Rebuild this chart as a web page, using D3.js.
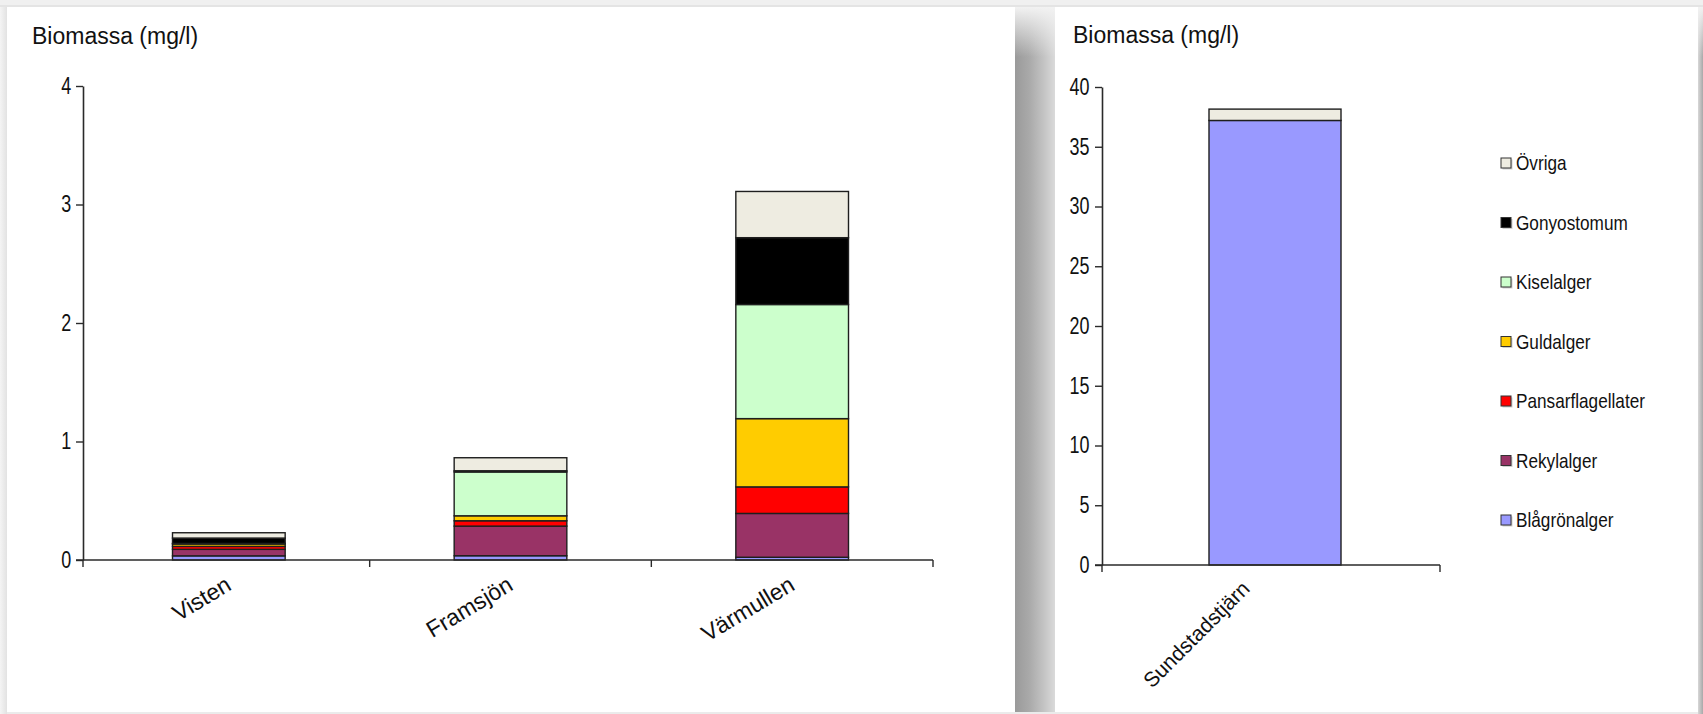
<!DOCTYPE html>
<html>
<head>
<meta charset="utf-8">
<script src="https://cdn.jsdelivr.net/npm/d3@7"></script>
<style>
  html, body { margin: 0; padding: 0; background: #efefef; }
  svg { display: block; }
  text { font-family: "Liberation Sans", Arial, sans-serif; fill: #111; }
</style>
</head>
<body>
<svg id="chart" width="1703" height="714"></svg>
<script>
// ---------- DATA ----------
const lakesLeft = ["Visten", "Framsjön", "Värmullen"];
const lakesRight = ["Sundstadstjärn"];
const lakes = ["Visten", "Framsjön", "Värmullen", "Sundstadstjärn"];

const seriesNames = ["Blågrönalger", "Rekylalger", "Pansarflagellater", "Guldalger", "Kiselalger", "Gonyostomum", "Övriga"];
const seriesColors = ["#9999FF", "#993366", "#FF0000", "#FFCC00", "#CCFFCC", "#000000", "#EEECE1"];

// values per lake: Visten, Framsjön, Värmullen, Sundstadstjärn (mg/l)
const blagronalger      = [0.035, 0.036, 0.023, 37.2];
const rekylalger        = [0.055, 0.250, 0.370, 0];
const pansarflagellater = [0.025, 0.045, 0.224, 0];
const guldalger         = [0.020, 0.042, 0.576, 0];
const kiselalger        = [0.005, 0.370, 0.963, 0];
const gonyostomum       = [0.045, 0.010, 0.564, 0];
const ovriga            = [0.045, 0.110, 0.390, 0.95];

const leftTicks = [0, 1, 2, 3, 4];
const rightTicks = [0, 5, 10, 15, 20, 25, 30, 35, 40];
const yTitle = "Biomassa (mg/l)";

// ---------- BUILD TABLE ----------
const seriesValues = [blagronalger, rekylalger, pansarflagellater, guldalger, kiselalger, gonyostomum, ovriga];
const rows = lakes.map((lake, i) => {
  const r = { lake };
  seriesNames.forEach((s, j) => { r[s] = seriesValues[j][i]; });
  return r;
});
const color = d3.scaleOrdinal().domain(seriesNames).range(seriesColors);
const stack = d3.stack().keys(seriesNames);

const svg = d3.select("#chart");
const FONT = '"Liberation Sans", Arial, sans-serif';

// ---------- BACKGROUND / FRAMES ----------
const defs = svg.append("defs");
const sepGrad = defs.append("linearGradient").attr("id", "sepGrad").attr("x1", "0").attr("x2", "1").attr("y1", "0").attr("y2", "0");
sepGrad.append("stop").attr("offset", "0").attr("stop-color", "#9a9a9a");
sepGrad.append("stop").attr("offset", "0.35").attr("stop-color", "#a9a9a9");
sepGrad.append("stop").attr("offset", "0.7").attr("stop-color", "#c2c2c2");
sepGrad.append("stop").attr("offset", "1").attr("stop-color", "#dadada");
const fadeGrad = defs.append("linearGradient").attr("id", "fadeGrad").attr("x1", "0").attr("x2", "0").attr("y1", "0").attr("y2", "1");
fadeGrad.append("stop").attr("offset", "0").attr("stop-color", "#f2f2f2").attr("stop-opacity", 1);
fadeGrad.append("stop").attr("offset", "1").attr("stop-color", "#f2f2f2").attr("stop-opacity", 0);
const edgeGrad = defs.append("linearGradient").attr("id", "edgeGrad").attr("x1", "0").attr("x2", "1");
edgeGrad.append("stop").attr("offset", "0").attr("stop-color", "#d8d8d8");
edgeGrad.append("stop").attr("offset", "1").attr("stop-color", "#a8a8a8");
const leftEdge = defs.append("linearGradient").attr("id", "leftEdge").attr("x1", "0").attr("x2", "1");
leftEdge.append("stop").attr("offset", "0").attr("stop-color", "#f4f4f4");
leftEdge.append("stop").attr("offset", "1").attr("stop-color", "#e2e2e2");

svg.append("rect").attr("x", 0).attr("y", 0).attr("width", 1703).attr("height", 714).attr("fill", "#f0f0f0");
svg.append("rect").attr("x", 0).attr("y", 5).attr("width", 1703).attr("height", 2).attr("fill", "#e4e4e4");
svg.append("rect").attr("x", 0).attr("y", 7).attr("width", 7).attr("height", 707).attr("fill", "url(#leftEdge)");
svg.append("rect").attr("x", 7).attr("y", 7).attr("width", 1008).attr("height", 705).attr("fill", "#ffffff");
svg.append("rect").attr("x", 1015).attr("y", 7).attr("width", 40).attr("height", 707).attr("fill", "url(#sepGrad)");
svg.append("rect").attr("x", 1015).attr("y", 7).attr("width", 40).attr("height", 50).attr("fill", "url(#fadeGrad)");
svg.append("rect").attr("x", 1055).attr("y", 7).attr("width", 643).attr("height", 705).attr("fill", "#ffffff");
svg.append("rect").attr("x", 1698).attr("y", 7).attr("width", 5).attr("height", 707).attr("fill", "url(#edgeGrad)");
svg.append("rect").attr("x", 1698).attr("y", 7).attr("width", 5).attr("height", 50).attr("fill", "url(#fadeGrad)");
svg.append("rect").attr("x", 7).attr("y", 712).attr("width", 1691).attr("height", 2).attr("fill", "#ebebeb");

// ---------- PANEL DRAWER ----------
function drawPanel(cfg) {
  const data = rows.filter(r => cfg.lakes.includes(r.lake));
  const stacked = stack(data);
  const x = d3.scaleBand().domain(cfg.lakes).range([cfg.b0, cfg.x1]).padding(0);
  const y = d3.scaleLinear().domain([0, cfg.max]).range([cfg.yBottom, cfg.yTop]);
  const bw = x.bandwidth() * 0.4;
  const g = svg.append("g");

  // title
  g.append("text").attr("x", cfg.titleX).attr("y", cfg.titleY)
    .style("font-size", cfg.titleSize + "px").text(yTitle);

  // bars
  g.append("g").selectAll("g").data(stacked).join("g")
    .attr("fill", d => color(d.key))
    .selectAll("rect").data(d => d).join("rect")
    .attr("x", d => x(d.data.lake) + (x.bandwidth() - bw) / 2)
    .attr("y", d => y(d[1]))
    .attr("width", bw)
    .attr("height", d => Math.max(0, y(d[0]) - y(d[1])))
    .attr("stroke", "#1e1e1e")
    .attr("stroke-width", 1.4);

  // y axis
  const ya = g.append("g").attr("transform", `translate(${cfg.x0},0)`)
    .call(d3.axisLeft(y).tickValues(cfg.ticks).tickSize(7).tickSizeOuter(0).tickPadding(cfg.tickPad).tickFormat(d3.format("d")));
  ya.select(".domain").attr("stroke", "#2a2a2a").attr("stroke-width", 1.6);
  ya.selectAll(".tick line").attr("stroke", "#2a2a2a").attr("stroke-width", 1.4);
  ya.selectAll(".tick text").style("font-size", cfg.tickSize + "px").style("font-family", FONT)
    .attr("fill", "#111").attr("transform", `scale(${cfg.tickScaleX},1)`);

  // x axis (line + boundary ticks)
  const xa = g.append("g");
  xa.append("line").attr("x1", cfg.x0 - 7).attr("x2", x.range()[1])
    .attr("y1", y(0)).attr("y2", y(0)).attr("stroke", "#2a2a2a").attr("stroke-width", 1.6);
  const bounds = [cfg.x0].concat(cfg.lakes.slice(1).map(l => x(l))).concat([x.range()[1]]);
  xa.selectAll("line.tk").data(bounds).join("line").attr("class", "tk")
    .attr("x1", d => d).attr("x2", d => d).attr("y1", y(0)).attr("y2", y(0) + 7)
    .attr("stroke", "#2a2a2a").attr("stroke-width", 1.4);

  // category labels
  xa.selectAll("text.cat").data(cfg.lakes).join("text").attr("class", "cat")
    .attr("text-anchor", "end")
    .style("font-size", cfg.catSize + "px")
    .attr("transform", d => `translate(${x(d) + x.bandwidth() / 2 + cfg.catDx},${y(0) + cfg.catDy}) rotate(${cfg.catAngle})`)
    .text(d => d);
}

drawPanel({
  lakes: lakesLeft, x0: 83, b0: 88, x1: 933, yTop: 86, yBottom: 560, max: 4, ticks: leftTicks,
  titleX: 32, titleY: 44, titleSize: 23, tickSize: 23, tickScaleX: 0.78, tickPad: 8,
  catSize: 23, catAngle: -31, catDx: 4, catDy: 29
});
drawPanel({
  lakes: lakesRight, x0: 1102, b0: 1110, x1: 1440, yTop: 87, yBottom: 565, max: 40, ticks: rightTicks,
  titleX: 1073, titleY: 43, titleSize: 23, tickSize: 23, tickScaleX: 0.78, tickPad: 9,
  catSize: 21, catAngle: -45, catDx: -24, catDy: 25
});

// ---------- LEGEND ----------
const legendOrder = seriesNames.slice().reverse();
const ly = d3.scalePoint().domain(legendOrder).range([163, 520]);
const lg = svg.append("g").selectAll("g").data(legendOrder).join("g")
  .attr("transform", d => `translate(1501,${ly(d)})`);
lg.append("rect").attr("x", 1.5).attr("y", -3.5).attr("width", 10).attr("height", 10).attr("fill", "#b0b0b0").attr("opacity", 0.6);
lg.append("rect").attr("x", 0).attr("y", -5).attr("width", 10).attr("height", 10)
  .attr("fill", d => color(d)).attr("stroke", "#333").attr("stroke-width", 1);
lg.append("text").attr("x", 15 / 0.86).attr("y", 0).attr("dy", "0.35em")
  .attr("transform", "scale(0.86,1)")
  .style("font-size", "20px").text(d => d);
</script>
</body>
</html>
